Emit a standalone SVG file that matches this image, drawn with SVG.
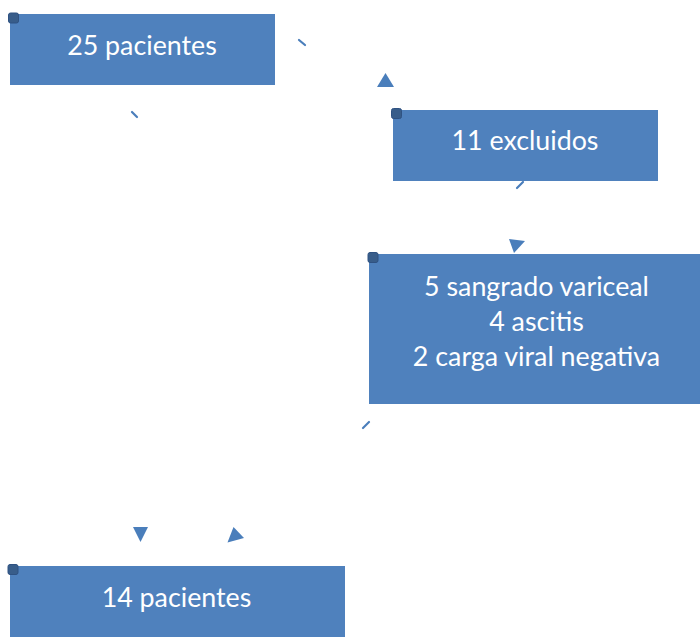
<svg xmlns="http://www.w3.org/2000/svg" width="700" height="638" viewBox="0 0 700 638">
<style>
.box{fill:#4f81bd}
.h{fill:#385d8a;stroke:#2f5282;stroke-width:1}
.t{font-family:Lato,"Open Sans",sans-serif;font-size:26.8px;fill:#ffffff;text-anchor:middle}
.stub{stroke:#4a7ebb;stroke-width:2.2;stroke-linecap:round}
.arr{fill:#4a7ebb}
</style>
<rect width="700" height="638" fill="#ffffff"/>
<g id="n1">
<rect class="box" x="10" y="14" width="265" height="71"/>
<rect class="h" x="8.5" y="13" width="10" height="10" rx="2"/>
<text class="t" x="142" y="54.5">25 pacientes</text>
</g>
<g id="n2">
<rect class="box" x="393" y="110" width="265" height="71"/>
<rect class="h" x="391.5" y="108.5" width="10" height="10" rx="2"/>
<text class="t" x="525" y="149.5">11 excluidos</text>
</g>
<g id="n3">
<rect class="box" x="369" y="254" width="331" height="150"/>
<rect class="h" x="368" y="252.5" width="10" height="10" rx="2"/>
<text class="t" x="536.5" y="295.5">5 sangrado variceal</text>
<text class="t" x="536.5" y="330.5">4 ascitis</text>
<text class="t" x="536.5" y="365.5">2 carga viral negativa</text>
</g>
<g id="n4">
<rect class="box" x="10" y="566" width="335" height="71"/>
<rect class="h" x="8" y="564.5" width="10" height="10" rx="2"/>
<text class="t" x="176.5" y="606.5">14 pacientes</text>
</g>
<g id="connectors">
<line class="stub" x1="299" y1="40" x2="305" y2="45"/>
<polygon class="arr" points="377,87 394,87 385.5,73"/>
<line class="stub" x1="132" y1="112" x2="137" y2="117"/>
<line class="stub" x1="517" y1="188" x2="523" y2="182"/>
<polygon class="arr" points="509,239 525,241 514,253"/>
<line class="stub" x1="363" y1="428" x2="369" y2="422"/>
<polygon class="arr" points="133,527 148,527 140.5,542"/>
<polygon class="arr" points="233.5,527 227.5,542.5 244,538"/>
</g>
</svg>
